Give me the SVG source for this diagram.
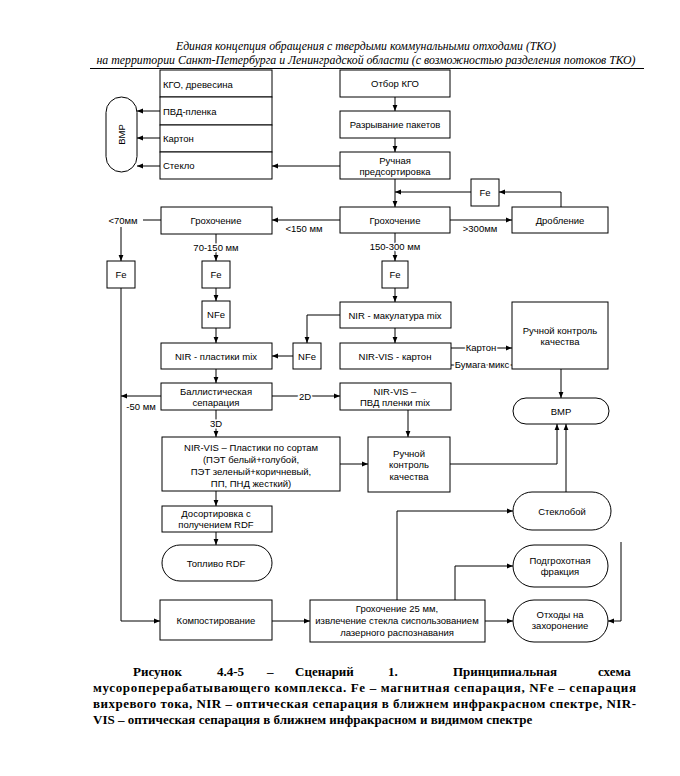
<svg xmlns="http://www.w3.org/2000/svg" width="680" height="776" viewBox="0 0 680 776">
<defs>
<marker id="a" markerWidth="6" markerHeight="6" refX="6" refY="3" orient="auto" markerUnits="userSpaceOnUse"><path d="M0,0.6 L6,3 L0,5.4 z" fill="#000"/></marker>
<style>
.b{fill:#fff;stroke:#000;stroke-width:1}
.t{font-family:"Liberation Sans",Arial,sans-serif;font-size:9.5px;text-anchor:middle;fill:#000}
.l{text-anchor:start}
.h{font-family:"Liberation Serif","Times New Roman",serif;font-style:italic;font-size:12px;text-anchor:middle;fill:#000}
.c{font-family:"Liberation Serif","Times New Roman",serif;font-weight:bold;font-size:13px;fill:#000}
.lb{font-family:"Liberation Sans",Arial,sans-serif;font-size:9.5px;text-anchor:middle;fill:#000;stroke:#fff;stroke-width:3;paint-order:stroke}
.k{fill:none;stroke:#000;stroke-width:1}
.ka{fill:none;stroke:#000;stroke-width:1;marker-end:url(#a)}
</style>
</defs>
<rect width="680" height="776" fill="#fff"/>
<g id="header">
<text class="h" x="366" y="50" textLength="380" lengthAdjust="spacingAndGlyphs">Единая концепция обращения с твердыми коммунальными отходами (ТКО)</text>
<text class="h" x="366" y="64" textLength="539" lengthAdjust="spacingAndGlyphs">на территории Санкт-Петербурга и Ленинградской области (с возможностью разделения потоков ТКО)</text>
<line x1="90" y1="68.5" x2="644" y2="68.5" stroke="#000" stroke-width="1"/>
</g>
<g id="connectors">
<path class="ka" d="M160,111 H137"/>
<path class="ka" d="M160,138 H137"/>
<path class="ka" d="M160,166 H137"/>
<path class="ka" d="M340,166 H272"/>
<path class="ka" d="M395,97 V111"/>
<path class="ka" d="M395,138 V152"/>
<path class="ka" d="M395,179 V207"/>
<path class="ka" d="M561,207 V192 H499"/>
<path class="ka" d="M471,192 H395"/>
<path class="ka" d="M340,220 H272"/>
<path class="ka" d="M450,220 H512"/>
<path class="k" d="M161,220 H143"/>
<path class="ka" d="M121,227 V261"/>
<path class="k" d="M121,288 V621"/>
<path class="ka" d="M121,621 H160"/>
<path class="ka" d="M216,234 V261"/>
<path class="ka" d="M216,288 V301"/>
<path class="ka" d="M216,328 V343"/>
<path class="ka" d="M293,356 H272"/>
<path class="ka" d="M340,315 H307 V343"/>
<path class="ka" d="M395,233 V261"/>
<path class="ka" d="M395,288 V302"/>
<path class="ka" d="M395,328 V343"/>
<path class="ka" d="M451,348 H512"/>
<path class="k" d="M451,365 H512"/>
<path class="ka" d="M561,369 V398"/>
<path class="ka" d="M216,369 V383"/>
<path class="ka" d="M161,396 H121"/>
<path class="ka" d="M272,396 H340"/>
<path class="ka" d="M216,410 V437"/>
<path class="ka" d="M408,410 V437"/>
<path class="ka" d="M340,464 H368"/>
<path class="ka" d="M450,464 H557 V424"/>
<path class="ka" d="M566,492 V424"/>
<path class="ka" d="M216,491 V506"/>
<path class="ka" d="M216,532 V545"/>
<path class="ka" d="M272,621 H310"/>
<path class="ka" d="M397,600 V511 H513"/>
<path class="ka" d="M455,600 V566 H513"/>
<path class="ka" d="M485,621 H513"/>
<path class="ka" d="M621,542 V621 H608"/>
<text class="lb" x="123" y="223.5">&lt;70мм</text>
<text class="lb" x="304" y="231.5">&lt;150 мм</text>
<text class="lb" x="480" y="231.5">&gt;300мм</text>
<text class="lb" x="216" y="251">70-150 мм</text>
<text class="lb" x="395" y="249.5">150-300 мм</text>
<text class="lb" x="481" y="351">Картон</text>
<text class="lb" x="482" y="368">Бумага микс</text>
<text class="lb" x="305" y="400">2D</text>
<text class="lb" x="141" y="409.5">-50 мм</text>
<text class="lb" x="216" y="426.5">3D</text>
</g>
<g id="stack">
<rect class="b" x="160" y="70" width="112" height="27"/>
<rect class="b" x="160" y="97" width="112" height="28"/>
<rect class="b" x="160" y="125" width="112" height="27"/>
<rect class="b" x="160" y="152" width="112" height="27"/>
<text class="t l" x="163" y="87.5">КГО, древесина</text>
<text class="t l" x="163" y="114.5">ПВД-пленка</text>
<text class="t l" x="163" y="141.5">Картон</text>
<text class="t l" x="163" y="169">Стекло</text>
</g>
<g id="vmr-left">
<rect class="b" x="106" y="97" width="31" height="75" rx="15.5"/>
<text class="t" transform="translate(124.5,134.5) rotate(-90)">ВМР</text>
</g>
<g id="otbor"><rect class="b" x="340" y="70" width="110" height="27"/><text class="t" x="395" y="87">Отбор КГО</text></g>
<g id="razryv"><rect class="b" x="340" y="111" width="110" height="27"/><text class="t" x="395" y="128">Разрывание пакетов</text></g>
<g id="ruchnaya"><rect class="b" x="340" y="152" width="110" height="27"/><text class="t" x="395" y="163.5">Ручная</text><text class="t" x="395" y="175">предсортировка</text></g>
<g id="fe-top"><rect class="b" x="471" y="179" width="28" height="27"/><text class="t" x="485" y="195.5">Fe</text></g>
<g id="groh-c"><rect class="b" x="340" y="207" width="110" height="26"/><text class="t" x="395" y="223.5">Грохочение</text></g>
<g id="drobl"><rect class="b" x="512" y="207" width="96" height="26"/><text class="t" x="560" y="223.5">Дробление</text></g>
<g id="groh-l"><rect class="b" x="161" y="207" width="111" height="27"/><text class="t" x="216" y="223.5">Грохочение</text></g>
<g id="fe-l"><rect class="b" x="107" y="261" width="28" height="27"/><text class="t" x="121" y="277.5">Fe</text></g>
<g id="fe-m"><rect class="b" x="202" y="261" width="28" height="27"/><text class="t" x="216" y="277.5">Fe</text></g>
<g id="fe-r"><rect class="b" x="382" y="261" width="26" height="27"/><text class="t" x="395" y="277.5">Fe</text></g>
<g id="nfe-m"><rect class="b" x="202" y="301" width="28" height="27"/><text class="t" x="216" y="318">NFe</text></g>
<g id="nir-pl"><rect class="b" x="161" y="343" width="111" height="26"/><text class="t" x="216" y="359.5">NIR - пластики mix</text></g>
<g id="nfe-r"><rect class="b" x="293" y="343" width="28" height="26"/><text class="t" x="307" y="359.5">NFe</text></g>
<g id="nir-mak"><rect class="b" x="340" y="302" width="111" height="26"/><text class="t" x="395" y="318.5">NIR - макулатура mix</text></g>
<g id="nir-kart"><rect class="b" x="340" y="343" width="111" height="26"/><text class="t" x="395" y="359.5">NIR-VIS - картон</text></g>
<g id="kontrol-r"><rect class="b" x="512" y="302" width="96" height="67"/><text class="t" x="560" y="333.5">Ручной контроль</text><text class="t" x="560" y="344.5">качества</text></g>
<g id="vmr-r"><rect class="b" x="513" y="398" width="96" height="26" rx="13"/><text class="t" x="561" y="414.5">ВМР</text></g>
<g id="ballist"><rect class="b" x="161" y="383" width="111" height="27"/><text class="t" x="216" y="394.5">Баллистическая</text><text class="t" x="216" y="406">сепарация</text></g>
<g id="nir-pvd"><rect class="b" x="340" y="383" width="111" height="27"/><text class="t" x="395" y="394.5">NIR-VIS –</text><text class="t" x="395" y="406">ПВД пленки mix</text></g>
<g id="nir-sort"><rect class="b" x="162" y="437" width="178" height="54"/><text class="t" x="251" y="450.5">NIR-VIS – Пластики по сортам</text><text class="t" x="251" y="463">(ПЭТ белый+голубой,</text><text class="t" x="251" y="475">ПЭТ зеленый+коричневый,</text><text class="t" x="251" y="487">ПП, ПНД жесткий)</text></g>
<g id="kontrol-c"><rect class="b" x="368" y="437" width="82" height="55"/><text class="t" x="409" y="456.5">Ручной</text><text class="t" x="409" y="468">контроль</text><text class="t" x="409" y="479.5">качества</text></g>
<g id="dosort"><rect class="b" x="162" y="506" width="110" height="26"/><text class="t" x="216" y="516.5">Досортировка с</text><text class="t" x="216" y="528">получением RDF</text></g>
<g id="rdf"><rect class="b" x="162" y="545" width="110" height="36" rx="18"/><text class="t" x="216" y="566.5">Топливо RDF</text></g>
<g id="steklo"><rect class="b" x="513" y="492" width="98" height="38" rx="19"/><text class="t" x="562" y="514.5">Стеклобой</text></g>
<g id="podgroh"><rect class="b" x="513" y="545" width="95" height="42" rx="21"/><text class="t" x="560" y="563.5">Подгрохотная</text><text class="t" x="560" y="575">фракция</text></g>
<g id="othody"><rect class="b" x="513" y="600" width="95" height="42" rx="21"/><text class="t" x="560" y="617.5">Отходы на</text><text class="t" x="560" y="629">захоронение</text></g>
<g id="kompost"><rect class="b" x="160" y="600" width="112" height="40"/><text class="t" x="216" y="624">Компостирование</text></g>
<g id="groh25"><rect class="b" x="310" y="600" width="175" height="42"/><text class="t" x="397" y="611.5">Грохочение 25 мм,</text><text class="t" x="397" y="623.5">извлечение стекла сиспользованием</text><text class="t" x="397" y="635.5">лазерного распознавания</text></g>
<g id="caption">
<text class="c" y="676"><tspan x="133">Рисунок</tspan><tspan x="217">4.4-5</tspan><tspan x="267">–</tspan><tspan x="295">Сценарий</tspan><tspan x="388">1.</tspan><tspan x="453">Принципиальная</tspan><tspan x="598">схема</tspan></text>
<text class="c" x="93" y="692" textLength="543" lengthAdjust="spacing">мусороперерабатывающего комплекса. Fe – магнитная сепарация, NFe – сепарация</text>
<text class="c" x="93" y="708" textLength="543" lengthAdjust="spacing">вихревого тока, NIR – оптическая сепарация в ближнем инфракрасном спектре, NIR-</text>
<text class="c" x="93" y="724">VIS – оптическая сепарация в ближнем инфракрасном и видимом спектре</text>
</g>
</svg>
